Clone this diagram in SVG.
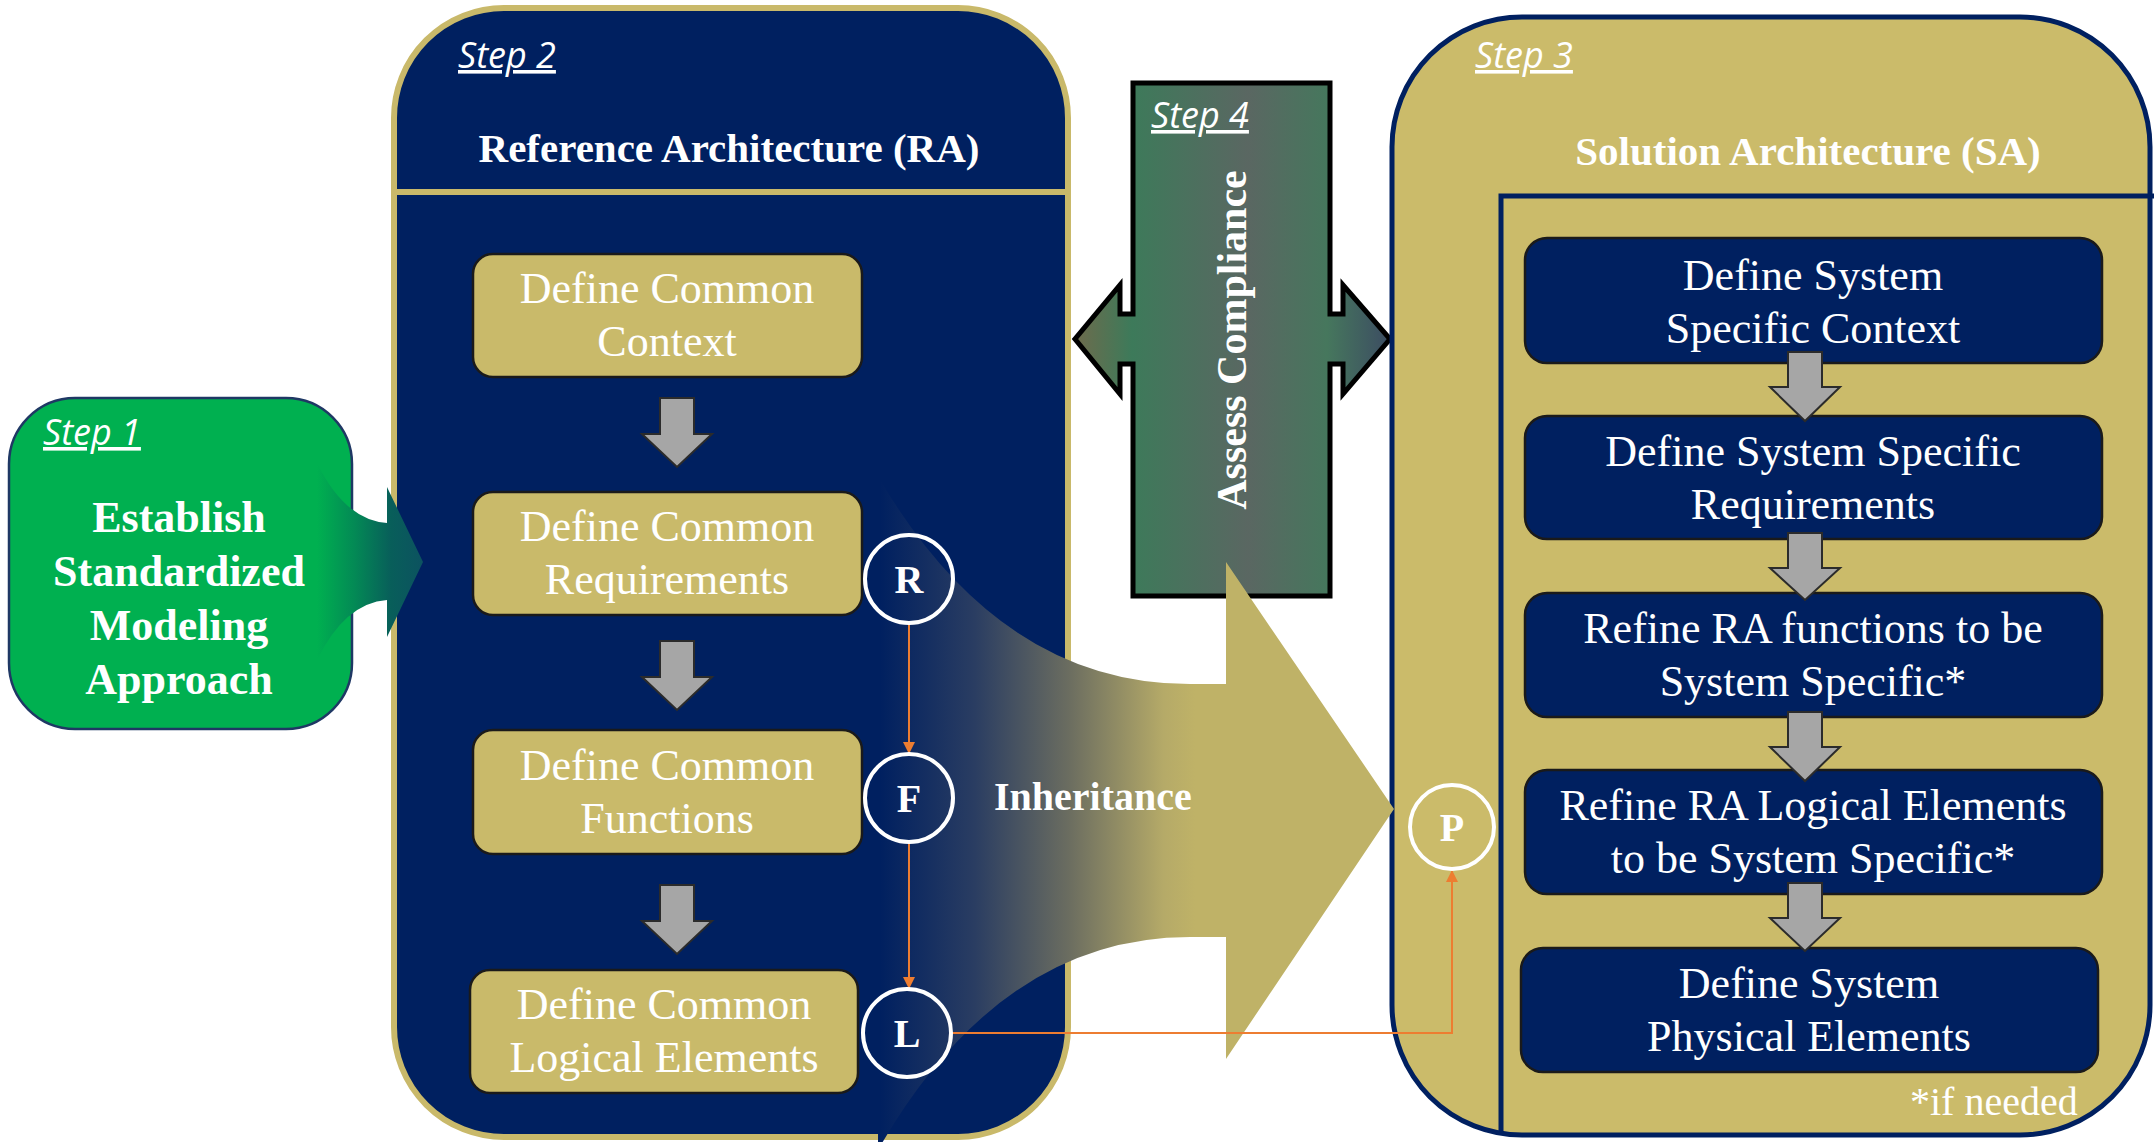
<svg xmlns="http://www.w3.org/2000/svg" width="2154" height="1142" viewBox="0 0 2154 1142">
<defs>
<style>
.serif{font-family:"Liberation Serif","Times New Roman",serif;fill:#ffffff}
.bold{font-weight:bold}
.step{font-family:"Open Sans","Liberation Sans",sans-serif;font-style:italic;font-size:36px;fill:#ffffff;text-decoration:underline}
.gbox{fill:#c9ba6a;stroke:#1a1a1a;stroke-width:2.5}
.nbox{fill:#002060;stroke:#1a1a1a;stroke-width:2.5}
.gtxt{font-size:44px;text-anchor:middle}
.garrow{fill:#a6a6a6;stroke:#2b2b2b;stroke-width:2}
.orange{fill:none;stroke:#ed7d31;stroke-width:2}
.circ{fill:none;stroke:#ffffff;stroke-width:4}
.ctxt{font-size:40px;font-weight:bold;text-anchor:middle}
.title{font-size:41px;font-weight:bold;text-anchor:middle}
</style>
<marker id="oarr" markerWidth="14" markerHeight="14" refX="12" refY="6" orient="auto" markerUnits="userSpaceOnUse">
<path d="M0,0 L12,6 L0,12 Z" fill="#ed7d31"/>
</marker>
<linearGradient id="g1" gradientUnits="userSpaceOnUse" x1="317" y1="0" x2="423" y2="0">
<stop offset="0" stop-color="#00b050"/>
<stop offset="0.35" stop-color="#038a55"/>
<stop offset="0.7" stop-color="#085e5a"/>
<stop offset="1" stop-color="#0c5260"/>
</linearGradient>
<linearGradient id="g4" gradientUnits="userSpaceOnUse" x1="1075" y1="0" x2="1390" y2="0">
<stop offset="0" stop-color="#6e6b4c"/>
<stop offset="0.18" stop-color="#3d7a5a"/>
<stop offset="0.55" stop-color="#5a6762"/>
<stop offset="0.8" stop-color="#46775d"/>
<stop offset="1" stop-color="#3c4c62"/>
</linearGradient>
<linearGradient id="gi" gradientUnits="userSpaceOnUse" x1="880" y1="0" x2="1195" y2="0">
<stop offset="0" stop-color="#002060"/>
<stop offset="0.3" stop-color="#2a3d62"/>
<stop offset="0.6" stop-color="#6b6d60"/>
<stop offset="0.9" stop-color="#b5aa68"/>
<stop offset="1" stop-color="#bfb267"/>
</linearGradient>
</defs>
<rect width="2154" height="1142" fill="#ffffff"/>

<g id="step1">
<rect x="9" y="398" width="343" height="331" rx="66" fill="#00b050" stroke="#1f3864" stroke-width="2.5"/>
<text class="step" x="43" y="445">Step 1</text>
<text class="serif bold" font-size="44" text-anchor="middle" x="179"><tspan x="179" y="532">Establish</tspan><tspan x="179" y="586">Standardized</tspan><tspan x="179" y="640">Modeling</tspan><tspan x="179" y="694">Approach</tspan></text>
</g>

<g id="ra">
<rect x="394" y="8" width="674" height="1129" rx="110" fill="#002060" stroke="#c9b96a" stroke-width="6"/>
<line x1="396" y1="192" x2="1066" y2="192" stroke="#c9b96a" stroke-width="6"/>
<text class="step" x="458" y="68">Step 2</text>
<text class="serif title" x="729" y="162">Reference Architecture (RA)</text>
</g>

<g id="ra-context">
<rect class="gbox" x="473" y="254" width="389" height="123" rx="20"/>
<text class="serif gtxt" x="667"><tspan x="667" y="303">Define Common</tspan><tspan x="667" y="356">Context</tspan></text>
</g>
<g id="ra-requirements">
<rect class="gbox" x="473" y="492" width="389" height="123" rx="20"/>
<text class="serif gtxt" x="667"><tspan x="667" y="541">Define Common</tspan><tspan x="667" y="594">Requirements</tspan></text>
</g>
<g id="ra-functions">
<rect class="gbox" x="473" y="730" width="389" height="124" rx="20"/>
<text class="serif gtxt" x="667"><tspan x="667" y="780">Define Common</tspan><tspan x="667" y="833">Functions</tspan></text>
</g>
<g id="ra-logical">
<rect class="gbox" x="470" y="970" width="388" height="123" rx="20"/>
<text class="serif gtxt" x="664"><tspan x="664" y="1019">Define Common</tspan><tspan x="664" y="1072">Logical Elements</tspan></text>
</g>

<g id="step4">
<path d="M1133,83 H1330 V314 H1343 V285 L1390,339 L1343,394 V364 H1330 V596 H1133 V364 H1120 V394 L1075,339 L1120,285 V314 H1133 Z" fill="url(#g4)" stroke="#000000" stroke-width="5"/>
<text class="step" x="1151" y="128">Step 4</text>
<text class="serif" font-size="42" font-weight="bold" text-anchor="middle" transform="translate(1246,340) rotate(-90)">Assess Compliance</text>
</g>

<g id="sa">
<rect x="1392" y="17" width="758" height="1118" rx="130" fill="#cbbb6a" stroke="#002060" stroke-width="5"/>
<path d="M1501,1133 V196 H2160" fill="none" stroke="#002060" stroke-width="5"/>
<text class="step" x="1475" y="68">Step 3</text>
<text class="serif title" x="1808" y="165">Solution Architecture (SA)</text>
</g>

<g id="sa-context">
<rect class="nbox" x="1525" y="238" width="577" height="125" rx="22"/>
<text class="serif gtxt" x="1813"><tspan x="1813" y="290">Define System</tspan><tspan x="1813" y="343">Specific Context</tspan></text>
</g>
<g id="sa-requirements">
<rect class="nbox" x="1525" y="416" width="577" height="123" rx="22"/>
<text class="serif gtxt" x="1813"><tspan x="1813" y="466">Define System Specific</tspan><tspan x="1813" y="519">Requirements</tspan></text>
</g>
<g id="sa-functions">
<rect class="nbox" x="1525" y="593" width="577" height="124" rx="22"/>
<text class="serif gtxt" x="1813"><tspan x="1813" y="643">Refine RA functions to be</tspan><tspan x="1813" y="696">System Specific*</tspan></text>
</g>
<g id="sa-logical">
<rect class="nbox" x="1525" y="770" width="577" height="124" rx="22"/>
<text class="serif gtxt" x="1813"><tspan x="1813" y="820">Refine RA Logical Elements</tspan><tspan x="1813" y="873">to be System Specific*</tspan></text>
</g>
<g id="sa-physical">
<rect class="nbox" x="1521" y="948" width="577" height="124" rx="22"/>
<text class="serif gtxt" x="1809"><tspan x="1809" y="998">Define System</tspan><tspan x="1809" y="1051">Physical Elements</tspan></text>
</g>

<g id="connectors">
<path id="step1-arrow" d="M317,463 Q345,520 387,523 V487 L423,562 L387,637 V600 Q345,603 317,660 Z" fill="url(#g1)"/>
<path id="inheritance-arrow" d="M879,478 Q1000,684 1190,684 H1226 V562 L1394,809 L1226,1059 V937 H1190 Q1000,937 878,1150 Z" fill="url(#gi)"/>
<path class="garrow" d="M660,398 H694 V434 H712 L677,467 L642,434 H660 Z"/>
<path class="garrow" d="M660,641 H694 V677 H712 L677,710 L642,677 H660 Z"/>
<path class="garrow" d="M660,885 H694 V921 H712 L677,954 L642,921 H660 Z"/>
<path class="garrow" d="M1788,352 H1822 V387 H1840 L1805,421 L1770,387 H1788 Z"/>
<path class="garrow" d="M1788,533 H1822 V568 H1840 L1805,600 L1770,568 H1788 Z"/>
<path class="garrow" d="M1788,712 H1822 V747 H1840 L1805,781 L1770,747 H1788 Z"/>
<path class="garrow" d="M1788,883 H1822 V918 H1840 L1805,951 L1770,918 H1788 Z"/>
<path class="orange" d="M909,623 V754" marker-end="url(#oarr)"/>
<path class="orange" d="M909,842 V989" marker-end="url(#oarr)"/>
<path class="orange" d="M951,1033 H1452 V870" marker-end="url(#oarr)"/>
</g>

<g id="node-r">
<circle class="circ" cx="909" cy="579" r="44"/>
<text class="serif ctxt" x="909" y="593">R</text>
</g>
<g id="node-f">
<circle class="circ" cx="909" cy="798" r="44"/>
<text class="serif ctxt" x="909" y="812">F</text>
</g>
<g id="node-l">
<circle class="circ" cx="907" cy="1033" r="44"/>
<text class="serif ctxt" x="907" y="1047">L</text>
</g>
<g id="node-p">
<circle class="circ" cx="1452" cy="827" r="42"/>
<text class="serif ctxt" x="1452" y="841">P</text>
</g>
<text id="inheritance-label" class="serif bold" font-size="40" x="994" y="810">Inheritance</text>
<text id="if-needed" class="serif" font-size="40" x="1910" y="1115">*if needed</text>
</svg>
